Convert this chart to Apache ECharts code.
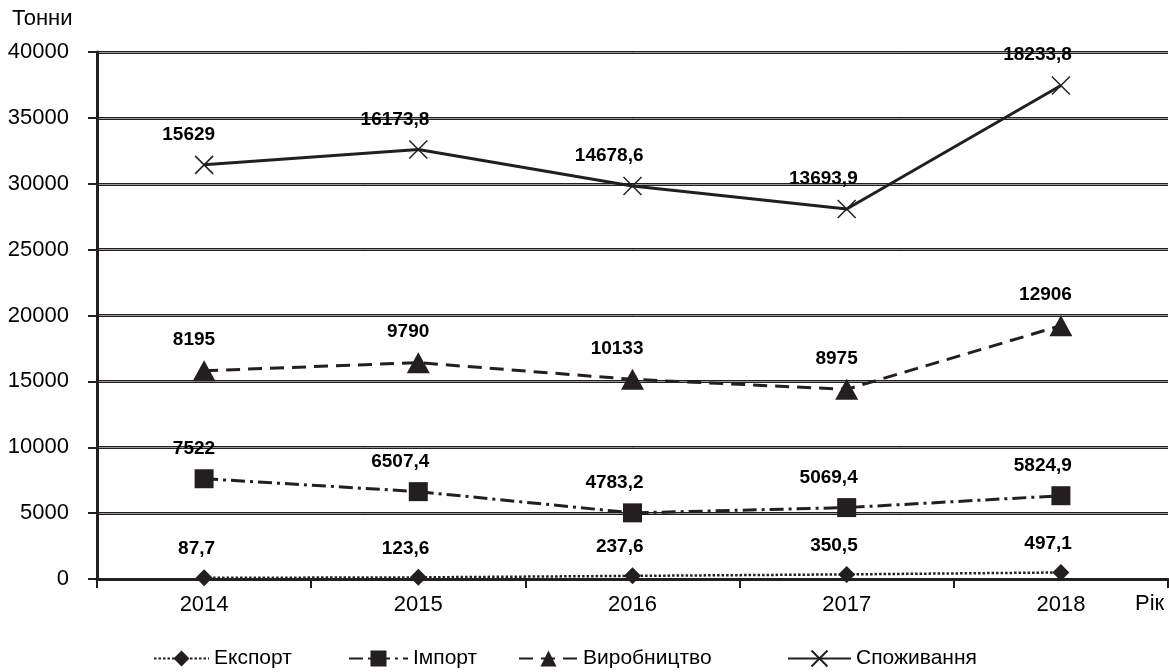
<!DOCTYPE html>
<html><head><meta charset="utf-8">
<script src="https://cdn.jsdelivr.net/npm/echarts@6/dist/echarts.min.js"></script>
<style>html,body{margin:0;padding:0;background:#fff}#c{width:1169px;height:672px}</style>
</head><body><div id="c"></div>
<script>
var years = ['2014','2015','2016','2017','2018'];
var exportVals = [87.7, 123.6, 237.6, 350.5, 497.1];
var importVals = [7522, 6507.4, 4783.2, 5069.4, 5824.9];
var productionVals = [8195, 9790, 10133, 8975, 12906];
var consumptionVals = [15629, 16173.8, 14678.6, 13693.9, 18233.8];
var seriesNames = ['Експорт', 'Імпорт', 'Виробництво', 'Споживання'];
var yTicks = {min: 0, max: 40000, interval: 5000};

var INK = '#231f20';
var FONT = 'Liberation Sans, Arial, sans-serif';
function fmt(v){ return String(v).replace('.', ','); }
function lbl(arr){
  return {show:true, position:'top', distance:11, align:'right', offset:[11,0],
    fontFamily:FONT, fontSize:19, fontWeight:'bold', color:'#000',
    formatter:function(p){ return fmt(arr[p.dataIndex]); }};
}
var chart = echarts.init(document.getElementById('c'), null, {renderer:'canvas'});
var legendLeft = [153, 348, 518, 787];
var legendW = [55, 59, 59, 63];
var legends = seriesNames.map(function(n,i){
  return {data:[n], left:legendLeft[i], top:648, padding:0, itemWidth:legendW[i], itemHeight:20, itemGap:0,
    textStyle:{fontFamily:FONT, fontSize:21, color:'#000'}, selectedMode:false};
});
var yBase = {type:'value', min:yTicks.min, max:yTicks.max, interval:yTicks.interval};
chart.setOption({
  animation:false,
  grid:{left:97, right:1, top:52, bottom:93},
  legend: legends,
  graphic:[
    {type:'text', left:12, top:8, style:{text:'Тонни', font:'22px ' + FONT, fill:'#000'}},
    {type:'text', left:1135, top:593, style:{text:'Рік', font:'22px ' + FONT, fill:'#000'}}
  ],
  xAxis:{type:'category', data:years, boundaryGap:true,
    axisLine:{lineStyle:{color:INK, width:3}},
    axisTick:{show:true, length:9, lineStyle:{color:INK, width:2}},
    axisLabel:{fontFamily:FONT, fontSize:22, color:'#000', margin:15},
    splitLine:{show:false}},
  yAxis:[
    Object.assign({}, yBase, {
      axisLine:{show:true, lineStyle:{color:INK, width:3}},
      axisTick:{show:true, length:9, lineStyle:{color:INK, width:2}},
      axisLabel:{fontFamily:FONT, fontSize:22, color:'#000', margin:28,
        formatter:function(v){ return String(v); }},
      splitLine:{show:true, lineStyle:{color:INK, width:3}}}),
    Object.assign({}, yBase, {show:true, position:'left',
      axisLine:{show:false}, axisTick:{show:false}, axisLabel:{show:false},
      splitLine:{show:true, lineStyle:{color:'#9a9a9a', width:1}}})
  ],
  series:[
    {name:seriesNames[0], type:'line', stack:'total', data:exportVals,
      symbol:'diamond', symbolSize:17,
      lineStyle:{color:INK, width:2.5, type:[2.5,2]}, itemStyle:{color:INK},
      label:lbl(exportVals), z:5},
    {name:seriesNames[1], type:'line', stack:'total', data:importVals,
      symbol:'rect', symbolSize:19,
      lineStyle:{color:INK, width:3, type:[14,5,3,5]}, itemStyle:{color:INK},
      label:lbl(importVals), z:5},
    {name:seriesNames[2], type:'line', stack:'total', data:productionVals,
      symbol:'triangle', symbolSize:[23,21],
      lineStyle:{color:INK, width:3, type:[14,8]}, itemStyle:{color:INK},
      label:lbl(productionVals), z:5},
    {name:seriesNames[3], type:'line', stack:'total', data:consumptionVals,
      symbol:'path://M0,0L20,20M20,0L0,20', symbolSize:18,
      lineStyle:{color:INK, width:3}, itemStyle:{color:INK, borderColor:INK, borderWidth:1.5},
      label:lbl(consumptionVals), z:5}
  ]
});
</script></body></html>
